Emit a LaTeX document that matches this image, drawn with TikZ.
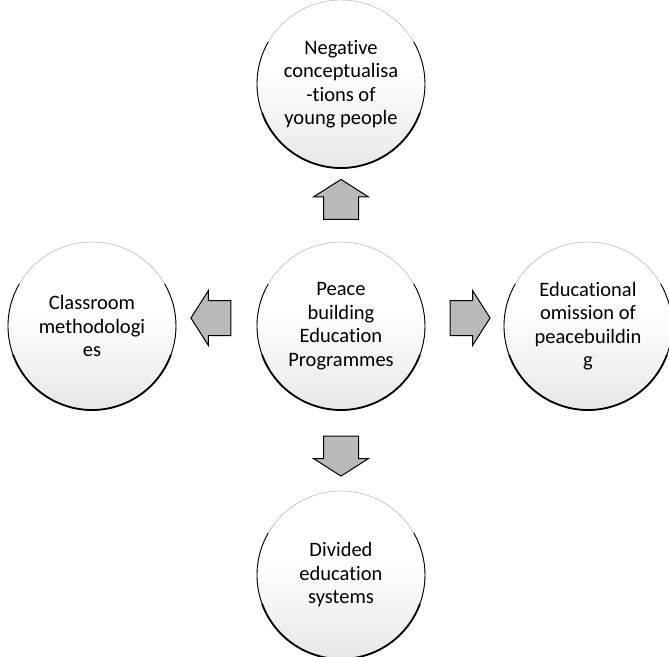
\documentclass[tikz,border=0pt]{standalone}
\usepackage{fontspec}
\setmainfont{Carlito}[Ligatures=NoCommon]
\usetikzlibrary{positioning}
\usetikzlibrary{calc}
\usetikzlibrary{shapes.arrows}
\pgfdeclareverticalshading{bubbleshade}{100bp}{color(0bp)=(gray!45); color(30bp)=(gray!15); color(55bp)=(white); color(100bp)=(white)}

\begin{document}
\begin{tikzpicture}[x=1pt,y=1pt,
  bubble/.style={circle, shading=bubbleshade, draw=black!35, thin, minimum size=168pt,
    inner sep=0pt, outer sep=0pt, align=center, font=\fontsize{20.5}{23.5}\selectfont},
  blockarrow/.style={single arrow, draw=black, line width=1pt, fill=gray!55,
    minimum height=40pt, inner xsep=0pt, inner ysep=17pt,
    single arrow head extend=10pt, single arrow tip angle=115},
  ]
\useasboundingbox (-341,-330) rectangle (328,326);
\node[bubble] (peace) at (0,0) {Peace\\building\\Education\\Programmes};
\node[bubble, above=74pt of peace] (negative) {Negative\\conceptualisa\\-tions of\\young people};
\node[bubble, left=81pt of peace] (classroom) {Classroom\\methodologi\\es};
\node[bubble, right=79pt of peace] (omission) {Educational\\omission of\\peacebuildin\\g};
\node[bubble, below=81pt of peace] (divided) {Divided\\education\\systems};
\foreach \n in {peace,negative,classroom,omission,divided}{
  \draw[line width=0.9pt] (\n.150) arc (150:390:84pt);
  \draw[line width=1.8pt] (\n.200) arc (200:340:84pt);
}

\node[blockarrow, rotate=90] (toNegative) at ($(peace)!0.5!(negative)$) {};
\node[blockarrow, rotate=180] (toClassroom) at ($(peace)!0.5!(classroom)+(0,8)$) {};
\node[blockarrow] (toOmission) at ($(peace)!0.5!(omission)+(0,8)$) {};
\node[blockarrow, rotate=-90] (toDivided) at ($(peace)!0.5!(divided)$) {};
\end{tikzpicture}
\end{document}
